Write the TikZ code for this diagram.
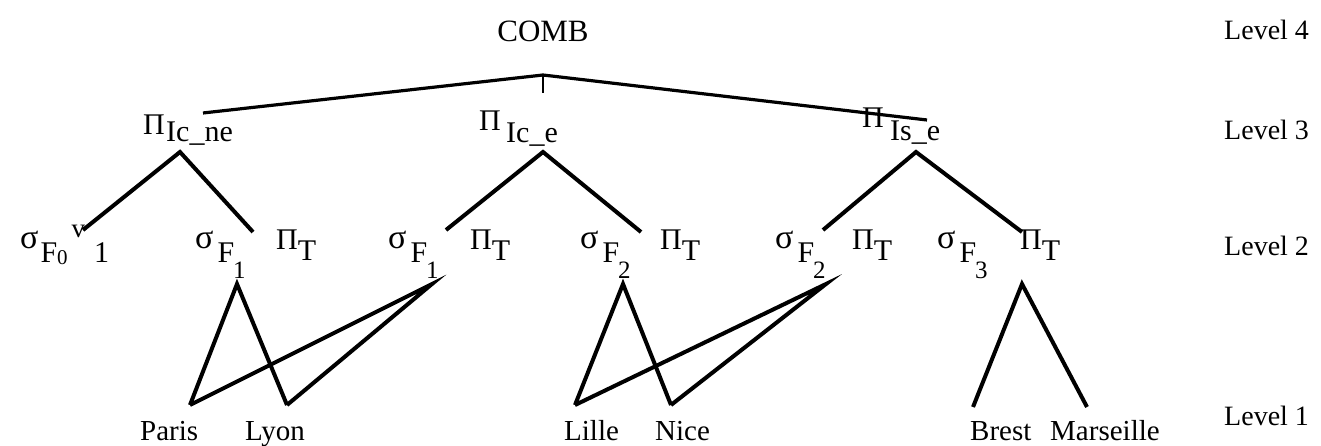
\documentclass[tikz,border=0pt]{standalone}
\usepackage{fontspec}
\setmainfont{Liberation Serif}
\usetikzlibrary{positioning}

% operator labels of level 2
\newcommand{\sg}{{\fontsize{34}{34}\selectfont σ}}
\newcommand{\selF}[1]{\sg\kern4pt\raisebox{-14pt}{F}\kern-1pt\raisebox{-30pt}{\fontsize{25}{25}\selectfont #1}}
\newcommand{\selFzero}{\sg\kern2pt\raisebox{-14pt}{F\raisebox{-2pt}{\fontsize{21}{21}\selectfont 0}}\kern4pt\raisebox{11pt}{\fontsize{27}{27}\selectfont v}\kern9pt\raisebox{-14pt}{1}}
\newcommand{\projT}{Π\raisebox{-10pt}{T}}

\tikzset{
  big/.style={inner sep=0pt, anchor=base west, font=\fontsize{30}{32}\selectfont},
  city/.style={inner sep=0pt, anchor=base west, font=\fontsize{29}{31}\selectfont},
  lvl/.style={inner sep=0pt, anchor=base west, font=\fontsize{28}{30}\selectfont},
  op/.style={inner sep=0pt, anchor=base west, font=\fontsize{30}{32}\selectfont},
  edge/.style={line width=4pt},
  thinedge/.style={line width=3.2pt}
}

\begin{document}
\begin{tikzpicture}[x=1pt,y=-1pt]
\useasboundingbox (0,0) rectangle (1321,446);

% level 4
\node[big,anchor=base,font=\fontsize{31}{33}\selectfont] (comb) at (543,42) {COMB};
\node[lvl] (lv4) at (1224,40) {Level 4};

% level 3
\node[big] (pa) at (143,135) {Π};
\node[big] (pa-s) at (166,142) {Ic\_ne};
\node[big] (pb) at (479,131) {Π};
\node[big] (pb-s) at (506,143) {Ic\_e};
\node[big] (pc) at (862,128) {Π};
\node[big] (pc-s) at (890,141) {Is\_e};
\node[lvl] (lv3) at (1224,140) {Level 3};

% level 2
\node[op] (g0) at (20,248) {\selFzero};
\node[op] (sf1a) at (195,248) {\selF{1}};
\node[op] (pt1) at (276,250) {\projT};
\node[op] (sf1b) at (388,248) {\selF{1}};
\node[op] (pt2) at (470,250) {\projT};
\node[op] (sf2a) at (580,248) {\selF{2}};
\node[op] (pt3) at (660,250) {\projT};
\node[op] (sf2b) at (775,248) {\selF{2}};
\node[op] (pt4) at (852,250) {\projT};
\node[op] (sf3) at (937,248) {\selF{3}};
\node[op] (pt5) at (1020,250) {\projT};
\node[lvl] (lv2) at (1224,255) {Level 2};

% level 1
\node[city] (paris) at (140,440) {Paris};
\node[city] (lyon) at (245,440) {Lyon};
\node[city] (lille) at (564,440) {Lille};
\node[city] (nice) at (655,440) {Nice};
\node[city] (brest) at (970,440) {Brest};
\node[city] (mars) at (1050,440) {Marseille};
\node[lvl] (lv1) at (1224,425) {Level 1};

% junctions
\coordinate (top) at ([yshift=-33pt]comb.base);
\coordinate (tick) at ([shift={(37,-50)}]pb-s.base west);
\coordinate (ja) at ([shift={(14,10)}]pa-s.base west);
\coordinate (jb) at ([shift={(37,9)}]pb-s.base west);
\coordinate (jc) at ([shift={(26,11)}]pc-s.base west);
\coordinate (ja-in) at ([shift={(37,-29)}]pa-s.base west);
\coordinate (jc-in) at ([shift={(37,-21)}]pc-s.base west);
\coordinate (g0-up) at ([shift={(63,-18)}]g0.base west);
\coordinate (pt1-up) at ([shift={(-23,-18)}]pt1.base west);
\coordinate (sf1b-up) at ([shift={(58,-18)}]sf1b.base west);
\coordinate (pt3-up) at ([shift={(-19,-18)}]pt3.base west);
\coordinate (sf2b-up) at ([shift={(48,-18)}]sf2b.base west);
\coordinate (pt5-up) at ([shift={(2,-18)}]pt5.base west);
\coordinate (j1) at ([shift={(42,36)}]sf1a.base west);
\coordinate (j2) at ([shift={(44,36)}]sf1b.base west);
\coordinate (j3) at ([shift={(43,36)}]sf2a.base west);
\coordinate (j4) at ([shift={(51,36)}]sf2b.base west);
\coordinate (j5) at ([shift={(2,34)}]pt5.base west);
\coordinate (paris-up) at ([shift={(50,-35)}]paris.base west);
\coordinate (lyon-up) at ([shift={(42,-35)}]lyon.base west);
\coordinate (lille-up) at ([shift={(11,-35)}]lille.base west);
\coordinate (nice-up) at ([shift={(16,-35)}]nice.base west);
\coordinate (brest-up) at ([shift={(3,-33)}]brest.base west);
\coordinate (mars-up) at ([shift={(37,-33)}]mars.base west);

\draw[thinedge] (ja-in) -- (top) -- (jc-in);
\draw[line width=2pt] (top) -- (tick);
\draw[edge] (g0-up) -- (ja) -- (pt1-up);
\draw[edge] (sf1b-up) -- (jb) -- (pt3-up);
\draw[edge] (sf2b-up) -- (jc) -- (pt5-up);
\draw[edge] (paris-up) -- (j1) -- (lyon-up);
\draw[edge] (paris-up) -- (j2) -- (lyon-up);
\draw[edge] (lille-up) -- (j3) -- (nice-up);
\draw[edge] (lille-up) -- (j4) -- (nice-up);
\draw[edge] (brest-up) -- (j5) -- (mars-up);
\end{tikzpicture}
\end{document}
